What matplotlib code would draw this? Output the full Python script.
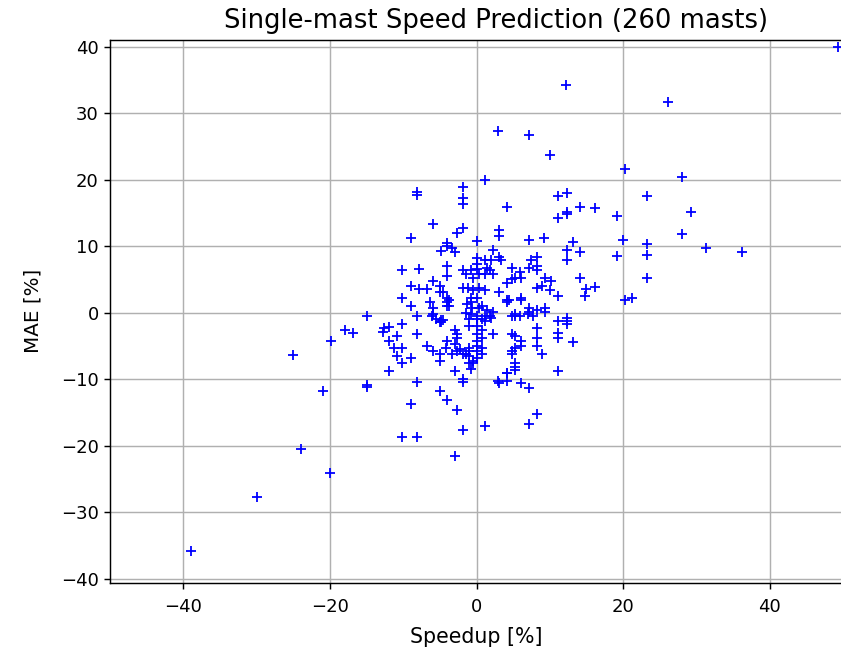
import matplotlib
matplotlib.use("Agg")
import matplotlib.pyplot as plt

speedup = [
    49.3, 12.2, 26.1, 3.0, 7.1, 10.0, 20.2, 28.1, 1.1,
    -8.1, -8.1, -1.9, -1.9, -1.9, -6.0, -8.9, -1.9, -2.7, 0.1,
    -4.0, -4.0, -3.3, -4.9, -3.0, 0.1, -4.0, -4.0, -10.1, -7.9,
    -1.9, -0.7, -1.4, -0.5,
    -8.9, -7.8, -6.8, -6.0, -5.0, -5.0,
    -10.1, -8.9, -6.4, -6.0, -6.0, -4.0, -4.0,
    -1.9, -1.2, -0.5, 0.4, 1.1, -0.8, 0.0, -1.3, -0.6, -1.4, -3.7, -3.7, -4.6,
    -14.9,
    11.1, 12.3, 4.1, 14.1, 11.1, 12.3, 3.1, 3.1, 7.1, 9.2, 13.1, 12.3, 14.1, 12.3,
    2.2, 3.1, 3.4, 0.1, 0.1, 0.4, 1.2, 2.0, 1.4, 1.8, 2.2, 1.1,
    7.5, 8.3, 8.2, 7.2, 8.3, 4.9, 5.9, 5.2, 4.8, 6.1, 4.1,
    9.3, 10.2, 8.9, 8.2, 10.0, 11.1, 14.1, 15.0, 14.8,
    3.1, 4.1, 6.1, 6.1, 7.2, 7.2, 8.2, 9.3,
    16.1, 16.1, 12.3, 4.5, 0.4, 1.4, 2.2, 5.2,
    23.2, 19.1, 29.2, 28.1, 20.0, 23.2, 23.2, 31.3, 19.1, 23.2, 20.2, 21.2, 36.2,
    -4.0, -0.7, 0.7, 1.8, 0.8, 0.0, -0.7, 4.2, 5.2, 5.9, -4.8,
    -3.0, -2.7, -3.0, -4.0, -4.1, -2.6, -3.3,
    0.0, 0.0, 0.0, 0.0, 0.0, 0.0, 0.7, 0.7, 0.8, 0.7, -1.0, -1.4, -0.5, -0.7,
    2.2, 4.8, 4.9, 5.2, 4.9, -3.0, -1.9, 2.9, 4.2, 5.2,
    -8.1, -6.1, -5.5, -5.0, -4.8, -4.6, -1.0, -1.0,
    -12.6, -11.9, -10.1, -12.8, -10.9, -11.9, -11.2, -10.1, -10.9, -10.1, -8.9, -8.1, -12.0,
    -6.8, -6.0, -5.0, -5.0, -2.7, -2.3, -1.9, -1.0, -1.0, -0.5, -1.0,
    -15.0, -8.1, -5.0, -4.0, -2.7, -1.9, -9.0, -1.9, -10.1, -8.1, -2.9,
    7.0, 7.7, 9.3, 11.1, 12.3, 12.3, 5.2, 6.1, 6.1, 4.9, 8.2, 8.2, 8.2, 9.0,
    11.1, 11.1, 13.1, 5.2, 5.2, 4.1, 3.1, 4.1, 6.1, 7.1, 11.1, 8.2, 7.1, 1.1,
    0.1, 1.1, 2.0, 1.1, 12.3,
    -17.9, -16.9, -19.8, -25.0, -15.0, -20.9,
    -24.0, -20.0, -30.0, -39.0,
]

mae = [
    40.0, 34.2, 31.7, 27.3, 26.7, 23.7, 21.7, 20.4, 20.0,
    18.2, 17.7, 18.9, 17.2, 16.4, 13.4, 11.2, 12.7, 12.0, 10.8,
    10.5, 10.0, 9.8, 9.3, 9.2, 8.3, 7.1, 5.5, 6.5, 6.6,
    6.4, 6.4, 5.9, 5.3,
    4.1, 3.6, 3.6, 4.8, 4.1, 3.1,
    2.3, 1.1, 1.6, 0.8, -0.1, 2.2, 1.1,
    3.8, 3.7, 3.4, 3.8, 3.4, 2.2, 2.2, 1.4, 0.8, 0.0, 1.9, 1.1, 3.1,
    -0.5,
    17.6, 18.0, 15.9, 15.9, 14.2, 14.9, 12.4, 11.6, 11.0, 11.2, 10.6, 9.5, 9.1, 7.9,
    9.4, 8.4, 7.9, 7.3, 6.6, 5.9, 7.9, 7.9, 6.8, 6.4, 5.9, 5.9,
    7.9, 8.4, 7.1, 6.8, 6.4, 6.8, 6.1, 5.3, 5.1, 5.3, 4.5,
    5.3, 4.8, 4.1, 3.8, 3.4, 2.6, 5.3, 3.6, 2.6,
    3.1, 1.9, 2.3, 1.9, 0.7, 0.1, 0.4, 0.8,
    15.7, 3.9, 15.1, 1.9, 0.7, 0.4, 0.1, -0.1,
    17.6, 14.5, 15.2, 11.9, 10.9, 10.4, 8.7, 9.7, 8.5, 5.2, 1.9, 2.3, 9.1,
    1.6, 1.6, 1.1, -0.4, -0.9, -0.4, -0.1, 1.6, -0.4, -0.4, -1.1,
    -2.6, -3.7, -4.6, -4.2, -5.3, -5.7, -6.2,
    -1.9, -3.1, -4.2, -4.9, -5.7, -6.8, -2.6, -3.7, -5.3, -6.2, -5.7, -6.2, -7.6, -8.4,
    -3.1, -0.5, -3.1, -5.3, -5.7, -8.7, -9.9, -10.2, -9.0, -8.2,
    -0.4, -0.4, -0.9, -1.4, -1.4, -1.0, -0.9, -1.9,
    -2.3, -2.1, -1.6, -2.9, -3.4, -4.2, -5.3, -5.3, -6.5, -7.6, -6.8, -3.1, -8.7,
    -4.9, -5.7, -6.2, -7.2, -3.1, -5.4, -6.2, -5.3, -6.5, -7.2, -7.6,
    -11.1, -10.4, -11.7, -13.1, -14.6, -10.4, -13.7, -17.6, -18.6, -18.6, -21.5,
    -0.1, -0.4, 0.1, -1.2, -1.2, -1.7, -3.4, -4.2, -4.9, -6.2, -2.3, -3.7, -4.9, -6.2,
    -3.0, -3.7, -4.4, -7.6, -8.6, -9.0, -10.5, -10.2, -10.5, -11.3, -8.8, -15.2, -16.7, -17.0,
    -0.9, -0.4, -0.7, -1.2, -0.7,
    -2.5, -3.0, -4.2, -6.4, -10.9, -11.8,
    -20.4, -24.0, -27.6, -35.8,
]

title = "Single-mast Speed Prediction (260 masts)"
xlabel = "Speedup [%]"
ylabel = "MAE [%]"
xticks = [-40, -20, 0, 20, 40]
yticks = [-40, -30, -20, -10, 0, 10, 20, 30, 40]

s = 1.3
fig = plt.figure(figsize=(8.41, 6.51), dpi=100)
ax = fig.add_axes([110 / 841, 68 / 651, 733 / 841, 543.5 / 651])
ax.plot(speedup, mae, "b+", markersize=6 * s, markeredgewidth=1.0 * s)
ax.set_xlim(-50, 50)
ax.set_ylim(-40.6, 41.1)
ax.set_xticks(xticks)
ax.set_yticks(yticks)
ax.grid(True, color="#b0b0b0", linewidth=0.8 * s)
ax.set_axisbelow(True)
ax.tick_params(labelsize=10 * s, width=0.8 * s, length=3.5 * s)
ax.tick_params(axis="x", pad=6.5)
for sp in ax.spines.values():
    sp.set_linewidth(0.8 * s)
ax.set_title(title, fontsize=18.6, x=(496.5 - 110) / 733, pad=8)
ax.set_xlabel(xlabel, fontsize=14.8, labelpad=8)
ax.set_ylabel(ylabel, fontsize=14.3, labelpad=13)
fig.savefig("out.png", dpi=100)
